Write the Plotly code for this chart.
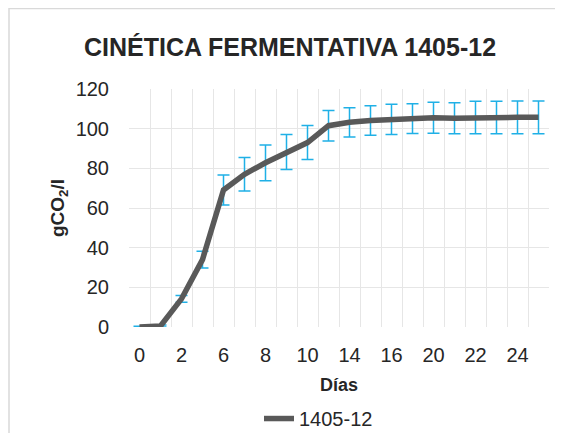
import plotly.graph_objects as go

days = ["0", "1", "2", "3", "6", "7", "8", "9", "10", "13",
        "14", "15", "16", "17", "20", "21", "22", "23", "24", "27"]
co2 = [0.0, 0.5, 14.2, 34.0, 69.1, 77.0, 82.8, 88.2, 93.0, 101.5,
       103.2, 104.1, 104.7, 105.1, 105.5, 105.3, 105.6, 105.6, 105.7, 105.7]
err = [0.4, 0.5, 1.7, 4.2, 7.6, 8.4, 9.0, 8.8, 8.6, 7.7,
       7.4, 7.4, 7.6, 7.5, 7.8, 7.8, 8.2, 8.2, 8.3, 8.3]
series_name = "1405-12"
title_text = "<b>CINÉTICA FERMENTATIVA 1405-12</b>"

FONT = "Arial, Liberation Sans, sans-serif"
TXT = "#262626"

fig = go.Figure()
fig.add_trace(go.Scatter(
    x=days, y=co2, mode="lines", name=series_name,
    line=dict(color="#595959", width=5.5),
    error_y=dict(type="data", array=err, visible=True,
                 color="#1fb0e6", thickness=1.5, width=6),
))

# page body has an 8px margin: work in figure coords = screen - 8
OFF = 8
W, H = 563 - OFF, 433 - OFF
L, R = 129 - OFF, W - (549 - OFF)
T = 89.3 - OFF
B = H - (326.7 - OFF)
pw, ph = W - L - R, H - T - B

def px(x_screen):
    return (x_screen - OFF - L) / pw

def py(y_screen):
    return (H - B - (y_screen - OFF)) / ph

fig.update_layout(
    width=W, height=H,
    margin=dict(l=L, r=R, t=T, b=B, autoexpand=False),
    paper_bgcolor="white", plot_bgcolor="white",
    font=dict(family=FONT, color=TXT, size=20),
    title=dict(text=title_text, x=(290 - OFF) / W, xanchor="center",
               y=1 - (47 - OFF) / H, yanchor="middle",
               font=dict(size=25, color=TXT, family=FONT)),
    showlegend=True,
    legend=dict(orientation="h", x=px(259), xanchor="left",
                y=py(418), yanchor="middle",
                font=dict(size=20, color=TXT, family=FONT),
                bgcolor="rgba(0,0,0,0)"),
    xaxis=dict(type="category", categoryorder="array", categoryarray=days,
               range=[-0.5, len(days) - 0.5], automargin=False,
               tickmode="linear", tick0=0, dtick=1, tickangle=0,
               tickson="boundaries", ticklabelstep=2,
               showgrid=True, gridcolor="#e6e6e6", gridwidth=1,
               ticks="", showline=False, zeroline=False,
               ticklabelstandoff=14,
               tickfont=dict(size=20, color=TXT),
               title=dict(text="<b>Días</b>", standoff=13,
                          font=dict(size=18, color=TXT))),
    yaxis=dict(range=[0, 120], dtick=20, tick0=0, automargin=False,
               showgrid=True, gridcolor="#e6e6e6", gridwidth=1,
               ticks="", showline=False, zeroline=False,
               ticklabelstandoff=19,
               tickfont=dict(size=20, color=TXT),
               title=dict(text="<b>gCO<sub>2</sub>/l</b>", standoff=5,
                          font=dict(size=19, color=TXT))),
    shapes=[dict(type="rect", xref="paper", yref="paper",
                 x0=px(9), x1=px(600), y0=py(460), y1=py(9),
                 line=dict(color="#d9d9d9", width=1.5),
                 fillcolor="rgba(0,0,0,0)", layer="below")],
)

fig.write_html("out.html")
